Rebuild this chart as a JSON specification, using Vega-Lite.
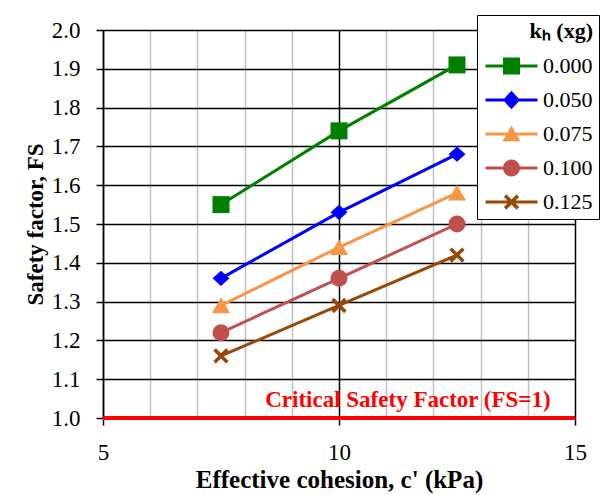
{
  "$schema": "https://vega.github.io/schema/vega-lite/v6.json",
  "width": 472,
  "height": 388,
  "autosize": {"type": "none"},
  "padding": {"left": 103, "top": 30, "right": 25, "bottom": 77},
  "background": "white",
  "config": {
    "font": "Liberation Serif",
    "view": {"stroke": null},
    "axis": {
      "labelFont": "Liberation Serif",
      "titleFont": "Liberation Serif",
      "labelColor": "black",
      "titleColor": "black",
      "labelFontSize": 23,
      "titleFontSize": 25,
      "titleFontWeight": "bold",
      "domainColor": "black",
      "domainWidth": 1.5,
      "tickColor": "black",
      "tickWidth": 1.5,
      "tickSize": 7
    },
    "legend": {
      "orient": "none",
      "legendX": 374,
      "legendY": -15,
      "padding": 6,
      "strokeColor": "black",
      "fillColor": "white",
      "titleFont": "Liberation Serif",
      "titleFontSize": 22,
      "titleFontWeight": "bold",
      "titleColor": "black",
      "titleAnchor": "end",
      "titlePadding": 12,
      "labelFont": "Liberation Serif",
      "labelFontSize": 22,
      "labelColor": "black",
      "labelOffset": 38,
      "rowPadding": 12,
      "symbolSize": 289,
      "symbolStrokeWidth": 0,
      "symbolOpacity": 1
    }
  },
  "data": {
    "values": [
      {"kh": "0.000", "c": 7.5, "fs": 1.55},
      {"kh": "0.000", "c": 10, "fs": 1.74},
      {"kh": "0.000", "c": 12.5, "fs": 1.91},
      {"kh": "0.050", "c": 7.5, "fs": 1.36},
      {"kh": "0.050", "c": 10, "fs": 1.53},
      {"kh": "0.050", "c": 12.5, "fs": 1.68},
      {"kh": "0.075", "c": 7.5, "fs": 1.29},
      {"kh": "0.075", "c": 10, "fs": 1.44},
      {"kh": "0.075", "c": 12.5, "fs": 1.58},
      {"kh": "0.100", "c": 7.5, "fs": 1.22},
      {"kh": "0.100", "c": 10, "fs": 1.36},
      {"kh": "0.100", "c": 12.5, "fs": 1.50},
      {"kh": "0.125", "c": 7.5, "fs": 1.16},
      {"kh": "0.125", "c": 10, "fs": 1.29},
      {"kh": "0.125", "c": 12.5, "fs": 1.42}
    ]
  },
  "encoding": {
    "x": {
      "field": "c", "type": "quantitative",
      "scale": {"domain": [5, 15], "nice": false, "zero": false},
      "axis": {
        "title": "Effective cohesion, c' (kPa)",
        "values": [5, 6, 7, 8, 9, 10, 11, 12, 13, 14, 15],
        "labelExpr": "datum.value % 5 === 0 ? datum.label : ''",
        "grid": true,
        "gridColor": {"condition": {"test": "datum.value % 5 === 0", "value": "black"}, "value": "#BFBFBF"},
        "gridWidth": 1.5,
        "tickOpacity": {"condition": {"test": "datum.value % 5 === 0", "value": 1}, "value": 0},
        "labelPadding": 16,
        "titlePadding": 3,
        "labelFlush": false,
        "zindex": 0
      }
    },
    "y": {
      "field": "fs", "type": "quantitative",
      "scale": {"domain": [1, 2], "nice": false, "zero": false},
      "axis": {
        "title": "Safety factor, FS",
        "titleFontSize": 23,
        "values": [1, 1.1, 1.2, 1.3, 1.4, 1.5, 1.6, 1.7, 1.8, 1.9, 2],
        "format": ".1f",
        "grid": true,
        "gridColor": "black",
        "gridWidth": 1.5,
        "labelPadding": 16,
        "titlePadding": 4,
        "labelFlush": false,
        "zindex": 0
      }
    }
  },
  "resolve": {
    "scale": {"shape": "independent"},
    "legend": {"color": "independent", "shape": "independent"}
  },
  "layer": [
    {
      "mark": {"type": "line", "strokeWidth": 3},
      "encoding": {
        "color": {
          "field": "kh", "type": "nominal",
          "scale": {"domain": ["0.000", "0.050", "0.075", "0.100", "0.125"], "range": ["#008000", "#0000FF", "#F79646", "#C0504D", "#984807"]},
          "legend": null
        }
      }
    },
    {
      "mark": {"type": "point", "filled": true, "opacity": 1, "size": 289, "strokeWidth": 0},
      "encoding": {
        "color": {
          "field": "kh", "type": "nominal",
          "scale": {"domain": ["0.000", "0.050", "0.075", "0.100", "0.125"], "range": ["#008000", "#0000FF", "#F79646", "#C0504D", "#984807"]},
          "legend": null
        },
        "shape": {
          "field": "kh", "type": "nominal",
          "scale": {"domain": ["0.000", "0.050", "0.075", "0.100", "0.125"], "range": ["M-1,-1H1V1H-1Z", "M0,-0.9L1,0L0,0.9L-1,0Z", "M0,-0.96L1.06,0.9L-1.06,0.9Z", "circle", "M0.6,-0.9L0.9,-0.6L0.3,0L0.9,0.6L0.6,0.9L0,0.3L-0.6,0.9L-0.9,0.6L-0.3,0L-0.9,-0.6L-0.6,-0.9L0,-0.3Z"]},
          "legend": null
        }
      }
    },
    {
      "transform": [{"filter": "datum.fs > 5"}],
      "mark": {"type": "point", "filled": true, "opacity": 1, "size": 289, "strokeWidth": 0},
      "encoding": {
        "color": {
          "field": "kh", "type": "nominal",
          "scale": {"domain": ["0.000", "0.050", "0.075", "0.100", "0.125"], "range": ["#008000", "#0000FF", "#F79646", "#C0504D", "#984807"]},
          "legend": {"title": "kₕ (xg)"}
        },
        "shape": {
          "field": "kh", "type": "nominal",
          "scale": {"domain": ["0.000", "0.050", "0.075", "0.100", "0.125"], "range": ["M-1,-0.18H5.12V0.18H-1ZM1.06,-1H3.06V1H1.06Z", "M-1,-0.18H5.12V0.18H-1ZM2.06,-1.1L3.06,0L2.06,1.1L1.06,0Z", "M-1,-0.18H5.12V0.18H-1ZM2.06,-1L3.12,0.84L1,0.84Z", "M-1,-0.18H5.12V0.18H-1ZM3.06,0A1,1 0 1,1 1.06,0A1,1 0 1,1 3.06,0Z", "M-1,-0.18H5.12V0.18H-1ZM2.66,-0.9L2.96,-0.6L2.36,0L2.96,0.6L2.66,0.9L2.06,0.3L1.46,0.9L1.16,0.6L1.76,0L1.16,-0.6L1.46,-0.9L2.06,-0.3Z"]},
          "legend": {"title": "kₕ (xg)"}
        }
      }
    },
    {
      "data": {"values": [{"c": 5, "fs": 1}, {"c": 15, "fs": 1}]},
      "mark": {"type": "rule", "color": "#FF0000", "strokeWidth": 4},
      "encoding": {
        "x": {"aggregate": "min", "field": "c", "type": "quantitative"},
        "x2": {"aggregate": "max", "field": "c"},
        "y": {"aggregate": "min", "field": "fs", "type": "quantitative"}
      }
    },
    {
      "data": {"values": [{"label": "Critical Safety Factor (FS=1)", "c": 11.46, "fs": 1}]},
      "mark": {"type": "text", "color": "#FF0000", "fontSize": 23, "fontWeight": "bold", "font": "Liberation Serif", "align": "center", "baseline": "middle", "dy": -18},
      "encoding": {
        "text": {"field": "label"}
      }
    }
  ]
}
